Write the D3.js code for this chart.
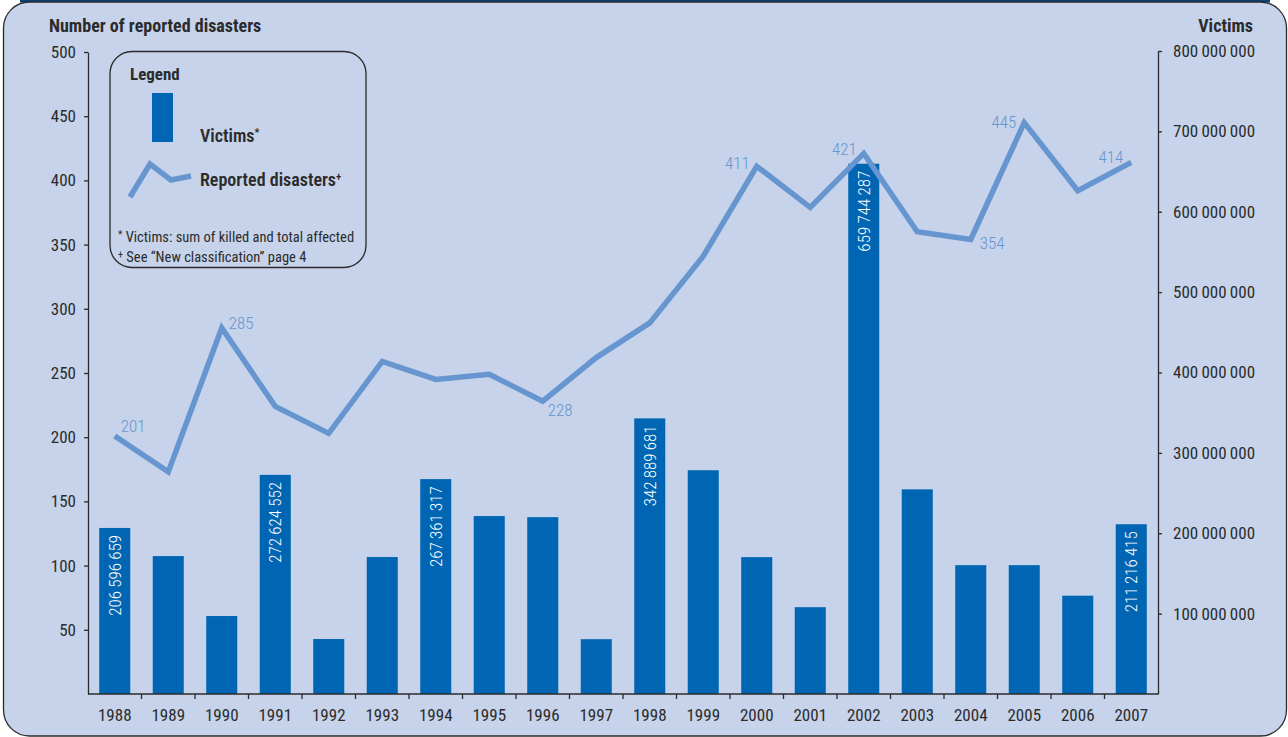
<!DOCTYPE html>
<html>
<head>
<meta charset="utf-8">
<script src="https://cdn.jsdelivr.net/npm/d3@7/dist/d3.min.js"></script>
<style>
  html, body { margin: 0; padding: 0; background: #ffffff; }
  svg { display: block; }
  text { font-family: "Liberation Sans Narrow", "Arial Narrow", "Roboto Condensed", "DejaVu Sans Condensed", sans-serif; }
</style>
</head>
<body>
<svg id="chart" width="1288" height="737"></svg>
<script>
// Yearly reported natural disasters and number of victims
const years = [1988, 1989, 1990, 1991, 1992, 1993, 1994, 1995, 1996, 1997,
               1998, 1999, 2000, 2001, 2002, 2003, 2004, 2005, 2006, 2007];

const victims = [206596659, 171600000, 97000000, 272624552, 68400000, 170400000,
                 267361317, 221400000, 220000000, 68200000, 342889681, 278400000,
                 170300000, 108000000, 659744287, 254600000, 160300000, 160300000,
                 122300000, 211216415];

const disasters = [201, 173, 285, 224, 203, 259, 245, 249, 228, 262,
                   289, 341, 411, 379, 421, 360, 354, 445, 392, 414];

// years whose victim totals are printed inside the bar
const labelledBars = [1988, 1991, 1994, 1998, 2002, 2007];
// years whose disaster counts are printed next to the line
const labelledPoints = [1988, 1990, 1996, 2000, 2002, 2004, 2005, 2007];

const leftTicks = [50, 100, 150, 200, 250, 300, 350, 400, 450, 500];
const rightTicks = [100e6, 200e6, 300e6, 400e6, 500e6, 600e6, 700e6, 800e6];

// label placement around line points: [dx, dy, anchor]
const pointLabelPlacement = {
  1988: [6, -4, "start"], 1990: [7, 1, "start"], 1996: [5, 15, "start"],
  2000: [-7, 3, "end"], 2002: [-7, 2, "end"], 2004: [9, 10, "start"],
  2005: [-8, 5, "end"], 2007: [-8, 1, "end"]
};

const BG = "#c6d3ea", BAR = "#0066b3", LINE = "#6795cf", INK = "#2b2b2b";
const FONT = '"Liberation Sans Narrow", "Arial Narrow", "Roboto Condensed", "DejaVu Sans Condensed", sans-serif';

const svg = d3.select("#chart");

// outer panel
svg.append("rect").attr("x", 20).attr("y", 0).attr("width", 1250).attr("height", 2.5).attr("fill", "#0b3f7a");
svg.append("rect").attr("x", 3.5).attr("y", 2).attr("width", 1283).attr("height", 734)
  .attr("rx", 26).attr("ry", 26).attr("fill", BG).attr("stroke", INK).attr("stroke-width", 1.3);

const x = d3.scaleBand().domain(years).range([88, 1158]).paddingInner(0.42).paddingOuter(0.21);
const yL = d3.scaleLinear().domain([0, 500]).range([694, 52]);
const yR = d3.scaleLinear().domain([0, 800e6]).range([694, 51]);

const fmt = d3.formatLocale({ decimal: ".", thousands: "\u2009", grouping: [3], currency: ["", ""] }).format(",");

// bars: victims
const bw = x.bandwidth();
svg.append("g").selectAll("rect").data(years).join("rect")
  .attr("x", (d) => x(d))
  .attr("y", (d, i) => yR(victims[i]))
  .attr("width", bw)
  .attr("height", (d, i) => yR(0) - yR(victims[i]))
  .attr("fill", BAR);

svg.append("g").selectAll("text").data(labelledBars).join("text")
  .attr("transform", (d) => {
    const i = years.indexOf(d);
    return `translate(${x(d) + bw / 2},${yR(victims[i]) + 7}) rotate(-90)`;
  })
  .attr("dy", "0.36em")
  .attr("text-anchor", "end")
  .attr("fill", "#ffffff")
  .attr("font-size", 17)
  .attr("font-weight", 300)
  .text((d) => fmt(victims[years.indexOf(d)]));

// line: reported disasters
const line = d3.line().x((d, i) => x(years[i]) + bw / 2).y((d) => yL(d));
svg.append("path").datum(disasters)
  .attr("d", line)
  .attr("fill", "none")
  .attr("stroke", LINE)
  .attr("stroke-width", 5.5)
  .attr("stroke-linejoin", "miter");

svg.append("g").selectAll("text").data(labelledPoints).join("text")
  .attr("x", (d) => x(d) + bw / 2 + pointLabelPlacement[d][0])
  .attr("y", (d) => yL(disasters[years.indexOf(d)]) + pointLabelPlacement[d][1])
  .attr("text-anchor", (d) => pointLabelPlacement[d][2])
  .attr("fill", LINE)
  .attr("font-size", 17)
  .attr("font-weight", 300)
  .text((d) => disasters[years.indexOf(d)]);

// axes
function styleAxis(g) {
  g.selectAll("path, line").attr("stroke", INK).attr("stroke-width", 1.3);
  g.selectAll("text").attr("fill", INK).attr("font-size", 17).style("font-family", FONT);
}

svg.append("g").attr("transform", "translate(88,0)")
  .call(d3.axisLeft(yL).tickValues(leftTicks).tickSize(4).tickSizeOuter(0).tickPadding(8))
  .call(styleAxis);

svg.append("g").attr("transform", "translate(1158,0)")
  .call(d3.axisRight(yR).tickValues(rightTicks).tickSize(4).tickSizeOuter(0).tickPadding(11).tickFormat(fmt))
  .call(styleAxis);

const xAxis = svg.append("g").attr("transform", "translate(0,694)")
  .call(d3.axisBottom(x).tickSize(0).tickSizeOuter(0).tickPadding(15))
  .call(styleAxis);
xAxis.select(".domain").attr("d", "M88,0H1158");
// separators between year bands
const step = x.step();
xAxis.append("g").selectAll("line").data(years.slice(1)).join("line")
  .attr("x1", (d) => x(d) - (step - bw) / 2).attr("x2", (d) => x(d) - (step - bw) / 2)
  .attr("y1", 0).attr("y2", 5)
  .attr("stroke", INK).attr("stroke-width", 1.3);

// axis titles
svg.append("text").attr("x", 49).attr("y", 32).attr("fill", INK)
  .attr("font-size", 18).attr("font-weight", "bold").text("Number of reported disasters");
svg.append("text").attr("x", 1253).attr("y", 32).attr("text-anchor", "end").attr("fill", INK)
  .attr("font-size", 18).attr("font-weight", "bold").text("Victims");

// legend
const lg = svg.append("g");
lg.append("rect").attr("x", 110).attr("y", 51.5).attr("width", 256).attr("height", 216)
  .attr("rx", 22).attr("ry", 22).attr("fill", "none").attr("stroke", INK).attr("stroke-width", 1.3);
lg.append("text").attr("x", 130).attr("y", 80).attr("fill", INK)
  .attr("font-size", 17).attr("font-weight", "bold").text("Legend");
lg.append("rect").attr("x", 152).attr("y", 93).attr("width", 21).attr("height", 49).attr("fill", BAR);
const vt = lg.append("text").attr("x", 200).attr("y", 142).attr("fill", INK)
  .attr("font-size", 18).attr("font-weight", 600);
vt.append("tspan").text("Victims");
vt.append("tspan").attr("dy", -6).attr("font-size", 11).text("*");
lg.append("path").attr("d", "M130,197L150,164L171,180L191,176")
  .attr("fill", "none").attr("stroke", LINE).attr("stroke-width", 5.5);
const rt = lg.append("text").attr("x", 200).attr("y", 186).attr("fill", INK)
  .attr("font-size", 18).attr("font-weight", 600);
rt.append("tspan").text("Reported disasters");
rt.append("tspan").attr("dy", -6).attr("font-size", 11).text("+");

const f1 = lg.append("text").attr("x", 118).attr("y", 242).attr("fill", INK).attr("font-size", 14.5);
f1.append("tspan").attr("dy", -4).attr("font-size", 10).text("*");
f1.append("tspan").attr("dy", 4).text(" Victims: sum of killed and total affected");
const f2 = lg.append("text").attr("x", 118).attr("y", 262).attr("fill", INK).attr("font-size", 14.5);
f2.append("tspan").attr("dy", -4).attr("font-size", 10).text("+");
f2.append("tspan").attr("dy", 4).text(" See \u201CNew classification\u201D page 4");
</script>
</body>
</html>
